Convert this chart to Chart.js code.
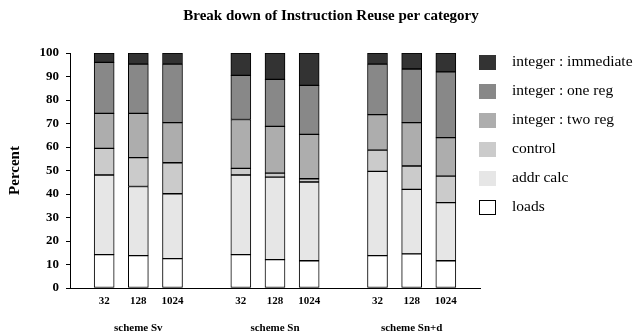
<!DOCTYPE html>
<html>
<head>
<meta charset="utf-8">
<script src="https://cdn.jsdelivr.net/npm/chart.js@4/dist/chart.umd.min.js"></script>
<style>
  html, body { margin: 0; padding: 0; background: #fff; }
  #wrap { width: 636px; height: 334px; }
</style>
</head>
<body>
<div id="wrap"><canvas id="c" width="636" height="334"></canvas></div>
<script>
// Table size per bar, grouped by scheme
const schemes = ['scheme Sv', 'scheme Sn', 'scheme Sn+d'];
const sizes = ['32', '128', '1024'];

// Percent of reused instructions in each category (bottom to top of each stack)
const loads        = [14.2, 13.8, 12.5, 14.2, 12.1, 11.6, 13.8, 14.5, 11.6];
const addrCalc     = [33.9, 29.4, 27.6, 33.9, 35.1, 33.5, 35.8, 27.5, 24.7];
const control      = [11.3, 12.3, 13.2,  2.8,  1.7,  1.4,  9.1,  9.9, 11.3];
const intTwoReg    = [14.9, 18.8, 17.1, 20.8, 19.9, 18.9, 15.1, 18.5, 16.4];
const intOneReg    = [21.7, 21.0, 24.9, 18.8, 20.0, 20.8, 21.5, 22.8, 28.0];
const intImmediate = [ 4.0,  4.7,  4.7,  9.5, 11.2, 13.8,  4.7,  6.8,  8.0];

const yTicks = [0, 10, 20, 30, 40, 50, 60, 70, 80, 90, 100];

// Category slots: an empty slot before, between and after each scheme group
const sizeLabels = [''];
const schemeLabels = [''];
const slotOfBar = [];
schemes.forEach((s, g) => {
  sizes.forEach((sz, k) => {
    slotOfBar.push(sizeLabels.length);
    sizeLabels.push(sz);
    schemeLabels.push(k === 1 ? s : '');
  });
  sizeLabels.push('');
  schemeLabels.push('');
});

function toSlots(values) {
  const out = sizeLabels.map(() => null);
  values.forEach((v, i) => { out[slotOfBar[i]] = v; });
  return out;
}

const series = [
  { label: 'loads',               values: loads,        color: '#ffffff' },
  { label: 'addr calc',           values: addrCalc,     color: '#e6e6e6' },
  { label: 'control',             values: control,      color: '#cbcbcb' },
  { label: 'integer : two reg',   values: intTwoReg,    color: '#adadad' },
  { label: 'integer : one reg',   values: intOneReg,    color: '#888888' },
  { label: 'integer : immediate', values: intImmediate, color: '#333333' }
];

const SERIF = "'Liberation Serif', 'Times New Roman', serif";
Chart.defaults.font.family = SERIF;
Chart.defaults.color = '#000';

// Heading and the key on the right side
const decorations = {
  id: 'decorations',
  afterDraw(chart) {
    const ctx = chart.ctx;
    ctx.save();
    ctx.fillStyle = '#000';
    ctx.font = 'bold 15px ' + SERIF;
    ctx.textAlign = 'center';
    ctx.textBaseline = 'middle';
    ctx.fillText('Break down of Instruction Reuse per category', 331, 16);

    const ds = chart.data.datasets.slice().reverse();
    ctx.font = '15.5px ' + SERIF;
    ctx.textAlign = 'left';
    ds.forEach((d, i) => {
      const cy = 62.5 + i * 29;
      ctx.fillStyle = d.backgroundColor;
      ctx.fillRect(479, cy - 7.5, 17, 15);
      if (d.backgroundColor === '#ffffff') {
        ctx.strokeStyle = '#000';
        ctx.lineWidth = 1;
        ctx.strokeRect(479.5, cy - 7, 16, 14);
      }
      ctx.fillStyle = '#000';
      ctx.fillText(d.label, 512, cy - 1);
    });
    ctx.restore();
  }
};

new Chart(document.getElementById('c'), {
  type: 'bar',
  data: {
    labels: sizeLabels,
    datasets: series.map(s => ({
      label: s.label,
      data: toSlots(s.values),
      backgroundColor: s.color,
      borderColor: '#000',
      borderWidth: 1,
      borderSkipped: false,
      barThickness: 20,
      xAxisID: 'x',
      yAxisID: 'y'
    }))
  },
  options: {
    responsive: false,
    animation: false,
    layout: { padding: { top: 53, right: 156, left: 0, bottom: 0 } },
    plugins: {
      legend: { display: false },
      title: { display: false },
      tooltip: { enabled: false }
    },
    scales: {
      x: {
        type: 'category',
        stacked: true,
        offset: false,
        weight: 0,
        afterFit: s => { s.height = 20; },
        grid: { display: false, drawTicks: false },
        border: { display: true, color: '#000', width: 1 },
        ticks: {
          autoSkip: false, maxRotation: 0, padding: 7,
          font: { size: 11, weight: 'bold' }, color: '#000'
        }
      },
      x2: {
        type: 'category',
        labels: schemeLabels,
        position: 'bottom',
        offset: false,
        weight: 1,
        afterFit: s => { s.height = 26; },
        grid: { display: false, drawTicks: false },
        border: { display: false },
        ticks: {
          autoSkip: false, maxRotation: 0, padding: 14,
          font: { size: 11, weight: 'bold' }, color: '#000'
        }
      },
      y: {
        stacked: true,
        min: 0, max: 100,
        afterFit: s => { s.width = 70; },
        afterBuildTicks: s => { s.ticks = yTicks.map(v => ({ value: v })); },
        grid: { drawOnChartArea: false, drawTicks: true, tickLength: 4, color: '#000' },
        border: { display: true, color: '#000', width: 1 },
        ticks: { padding: 7, font: { size: 13, weight: 'bold' }, color: '#000' },
        title: {
          display: true, text: 'Percent',
          font: { size: 15, weight: 'bold' }, color: '#000',
          padding: { top: 6, bottom: 0 }
        }
      }
    }
  },
  plugins: [decorations]
});
</script>
</body>
</html>
